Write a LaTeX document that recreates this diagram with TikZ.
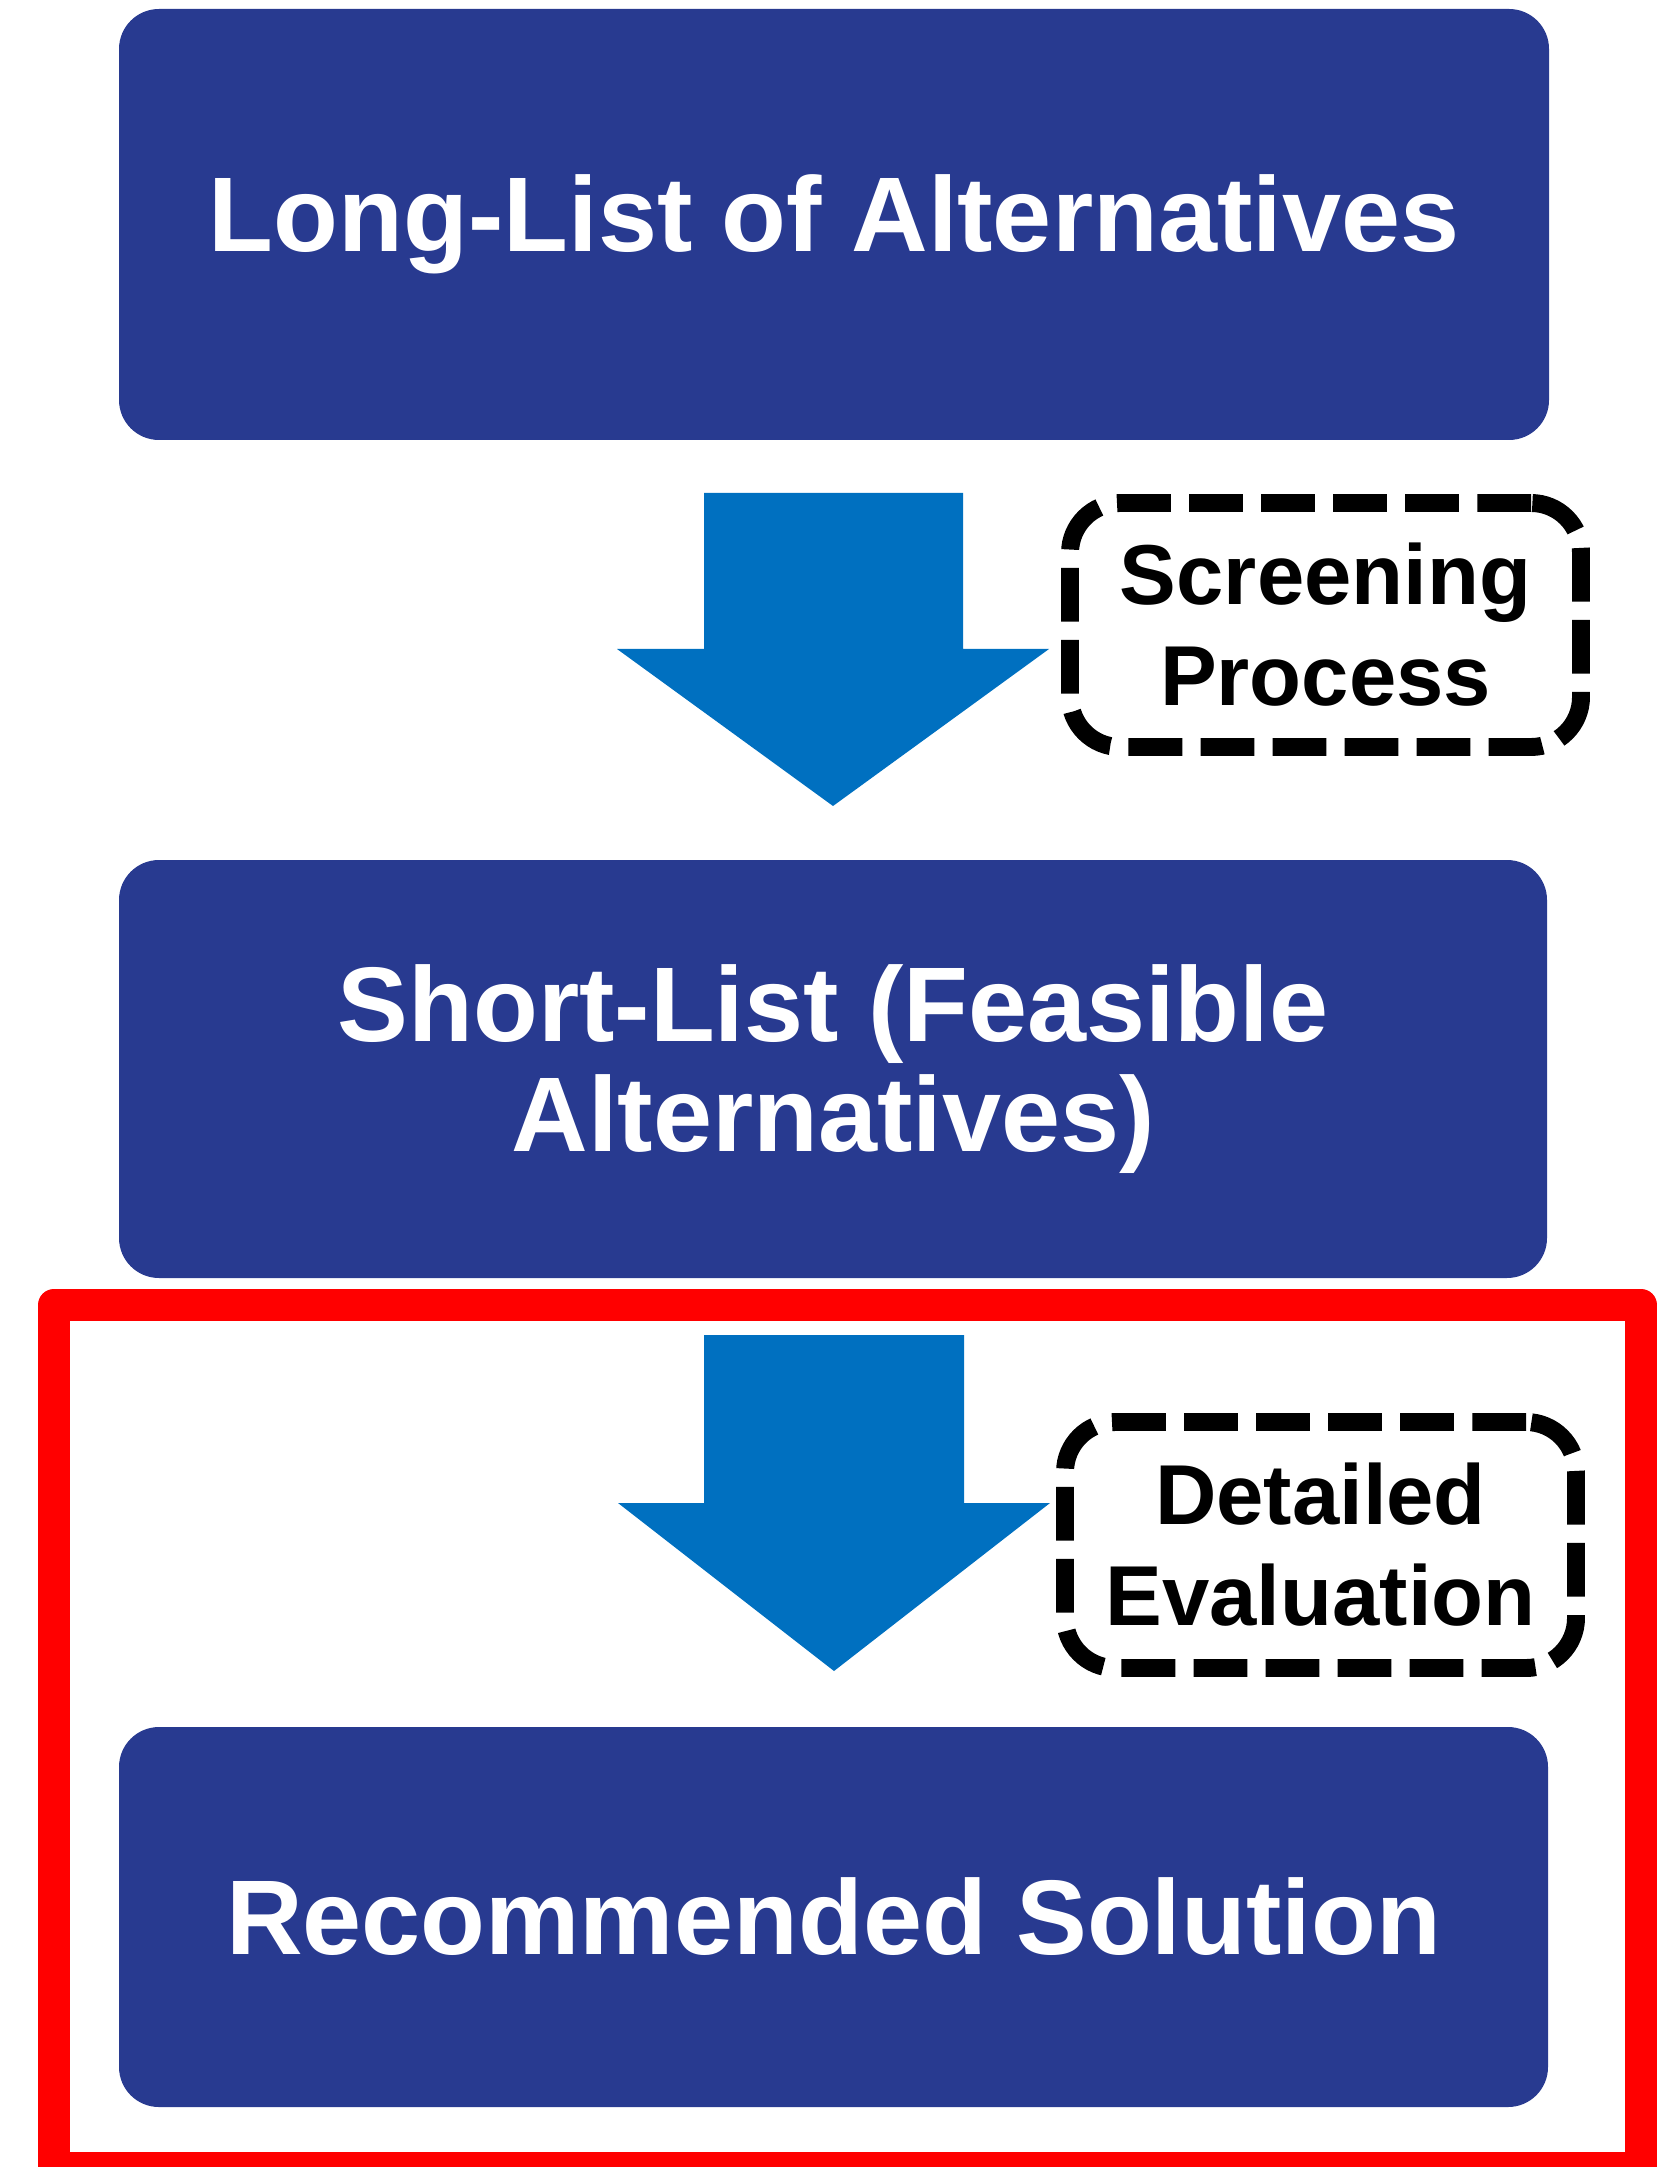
\documentclass[tikz,border=0pt]{standalone}
\usepackage{fontspec}
\setmainfont{Liberation Sans}
\usepackage{xcolor}
\usetikzlibrary{positioning}

\definecolor{stagebg}{RGB}{40,58,144}
\definecolor{arrowblue}{RGB}{0,112,192}

\begin{document}
\begin{tikzpicture}[x=0.1mm, y=0.1mm,
        stage/.style={fill=stagebg, text=white, rounded corners=0.4cm, align=center,
          font=\fontsize{30.2pt}{31.3pt}\selectfont\bfseries, inner sep=0pt},
        note/.style={draw=black, line width=5.1pt, dash pattern=on 15.3pt off 5.2pt,
          rounded corners=0.5cm, align=center, minimum width=5.11cm,
          font=\fontsize{24.2pt}{28.7pt}\selectfont\bfseries, inner sep=0pt}]
        \useasboundingbox (0,0) rectangle (1659,-2167);
        % stages
        \node [stage, minimum width=14.30cm, minimum height=4.31cm] (longlist) at (834,-224.5) {Long-List of Alternatives};
        \node [stage, minimum width=14.28cm, minimum height=4.18cm] (shortlist) at (833,-1069) {Short-List (Feasible\\Alternatives)};
        \node [stage, minimum width=14.29cm, minimum height=3.80cm] (solution) at (833.5,-1917) {Recommended Solution};
        % block arrows
        \fill [arrowblue] (704,-493) -- (963,-493) -- (963,-649) -- (1049,-649) -- (833,-806) -- (617,-649) -- (704,-649) -- cycle;
        \fill [arrowblue] (704,-1335) -- (964,-1335) -- (964,-1503) -- (1050,-1503) -- (834,-1671) -- (618,-1503) -- (704,-1503) -- cycle;
        % process labels
        \node [note, minimum height=2.44cm] (screening) at (1325.5,-625) {Screening\\Process};
        \node [note, minimum height=2.46cm] (evaluation) at (1320.5,-1545) {Detailed\\Evaluation};
        % final stage frame
        \draw [red, line width=9.1pt, line join=round] (54,-1305) rectangle (1641,-2168);
      \end{tikzpicture}
\end{document}
